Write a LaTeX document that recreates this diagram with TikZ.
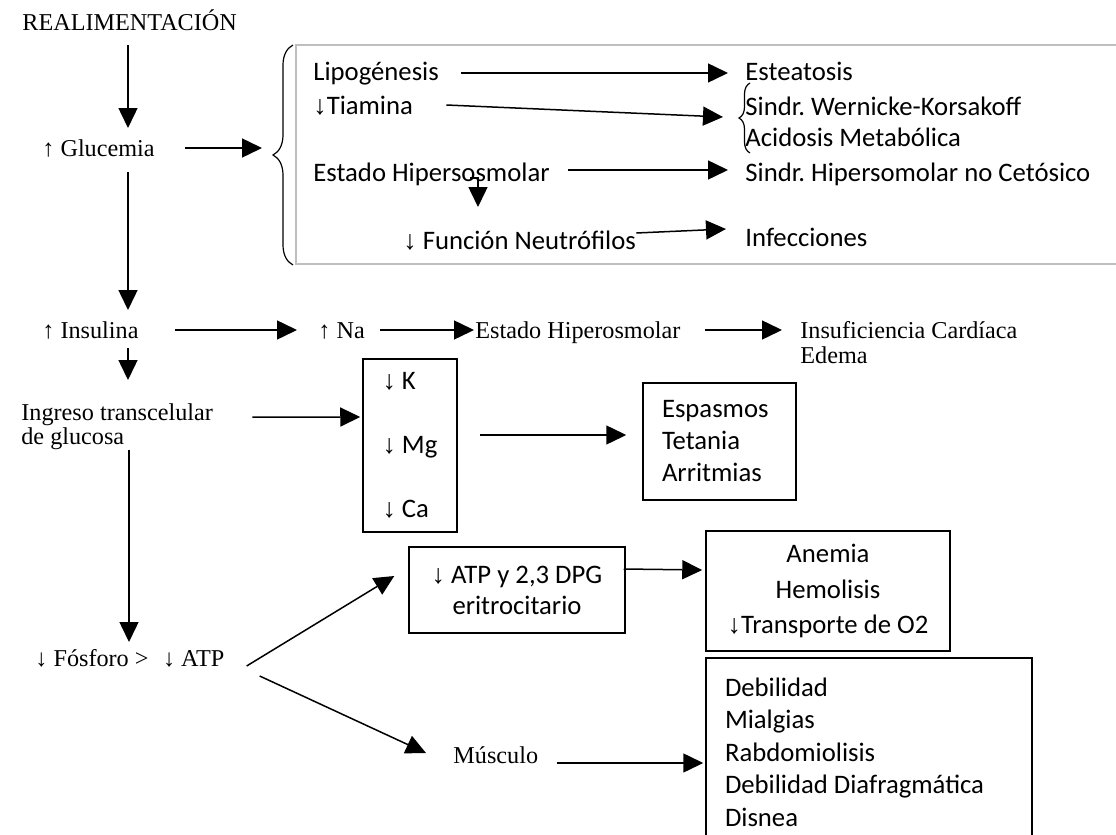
\documentclass[tikz,border=0pt]{standalone}
\usepackage{fontspec}
\setmainfont{Liberation Serif}
\newfontfamily\calfont{Carlito}
\usetikzlibrary{arrows.meta,calc,decorations.pathreplacing}
\newcommand\dnarr{{\rmfamily ↓}}
\newcommand\uparr{{\rmfamily ↑}}
\tikzset{
  ser/.style={font=\fontsize{12.1}{12.3}\selectfont, inner sep=0pt, anchor=base west},
  sans/.style={font=\calfont\fontsize{13.35}{16.3}\selectfont, inner sep=0pt, anchor=base west},
  arr/.style={-{Triangle[length=10pt,width=9.5pt]}, line width=0.75pt},
  boxed/.style={draw, line width=0.75pt, inner sep=0pt},
  brc/.style={decorate, line width=0.6pt},
}
\begin{document}
\frenchspacing
\begin{tikzpicture}[x=0.5pt,y=-0.5pt]
\useasboundingbox (0,0) rectangle (1116,835);
\clip (0,0) rectangle (1116,835);
\coordinate (spine) at (128,0);

% main column
\node[ser] (real) at (22,31) {REALIMENTACIÓN};
\node[ser] (gluc) at (42,156) {\uparr\ Glucemia};
\node[ser] (insul) at (42,338) {\uparr\ Insulina};
\node[ser, anchor=north west, align=flush left] (ingr) at (21,403) {Ingreso transcelular\\de glucosa};
\node[ser] (fosf) at (35,666) {\dnarr\ Fósforo >\hspace{0.6em}\dnarr\ ATP};

% hyperglycaemia group
\draw[black!25, line width=0.6pt] (296,45) rectangle (1130,264);
\draw[brc, decoration={brace, amplitude=10pt}] (293,265) -- (293,45);
\coordinate (bbin) at (262,148);
\node[sans] (lipo) at (313,81) {Lipogénesis};
\node[sans] (tiam) at (313,114) {\dnarr Tiamina};
\node[sans] (estado) at (313,181) {Estado Hipersosmolar};
\node[sans] (neut) at (403,249) {\dnarr\ Función Neutrófilos};
\node[sans] (estea) at (745,81) {Esteatosis};
\node[sans] (wern) at (745,115) {Sindr. Wernicke-Korsakoff};
\node[sans] (acid) at (745,147) {Acidosis Metabólica};
\node[sans] (shno) at (745,181) {Sindr. Hipersomolar no Cetósico};
\node[sans] (infec) at (745,246) {Infecciones};
\draw[brc, decoration={brace, amplitude=5.5pt}] (750,153) -- (750,83);
\coordinate (sbtip) at (728,118);

% sodium branch
\node[ser] (na) at (318,338) {\uparr\ Na};
\node[ser] (ehos) at (475,338) {Estado Hiperosmolar};
\node[ser, anchor=north west, align=flush left] (icard) at (800,321) {Insuficiencia Cardíaca\\Edema};

% electrolytes
\node[boxed, minimum width=47pt, minimum height=86.5pt, align=flush left,
      font=\calfont\fontsize{13.35}{32}\selectfont] (elec) at (410,445.5)
      {\dnarr\ K\\\dnarr\ Mg\\\dnarr\ Ca};
\node[boxed, minimum width=76.5pt, minimum height=58.5pt, text width=57.5pt, align=flush left,
      font=\calfont\fontsize{13.35}{16}\selectfont] (espas) at (719.5,441.5)
      {Espasmos\\Tetania\\Arritmias};

% phosphate branch
\node[boxed, minimum width=108pt, minimum height=43pt, text width=100pt, align=flush center,
      font=\calfont\fontsize{13.35}{15.5}\selectfont] (atp) at (517,590)
      {\dnarr\ ATP y 2,3 DPG\\eritrocitario};
\node[boxed, minimum width=122pt, minimum height=60pt, text width=112pt, align=flush center,
      font=\calfont\fontsize{13.35}{17.6}\selectfont] (anem) at (828,591)
      {Anemia\\Hemolisis\\\dnarr Transporte de O2};
\node[ser] (musc) at (453,763) {Músculo};
\node[boxed, minimum width=163pt, minimum height=94pt, text width=144pt, align=flush left,
      font=\calfont\fontsize{13.35}{16.25}\selectfont] (debil) at (869,752)
      {Debilidad\\Mialgias\\Rabdomiolisis\\Debilidad Diafragmática\\Disnea};

% connectors
\draw[arr] ($(real.base -| spine)+(0,14)$) -- ($(gluc.base -| spine)+(0,-28)$);
\draw[arr] ($(gluc.base east)+(30,-8)$) -- (bbin);
\draw[arr] ($(gluc.base -| spine)+(0,16)$) -- ($(insul.base -| spine)+(0,-28)$);
\draw[arr] ($(lipo.base east)+(22,-8)$) -- ($(estea.base west)+(-17,-8)$);
\draw[arr] ($(tiam.base east)+(33,-9)$) -- ($(sbtip)+(-5,-1)$);
\draw[arr] ($(estado.base east)+(18,-11)$) -- ($(shno.base west)+(-17,-11)$);
\draw[arr] ($(estado.base west)+(157,-3)$) -- ++(8,0) -- ++(0,29);
\draw[arr] ($(neut.base east)+(0,-16)$) -- ($(infec.base west)+(-19,-17)$);
\draw[arr] ($(insul.base east)+(36,-8)$) -- ($(na.base west)+(-21,-8)$);
\draw[arr] ($(na.base east)+(15,-8)$) -- ($(ehos.base west)+(-1,-8)$);
\draw[arr] ($(ehos.base east)+(24,-8)$) -- ($(icard.north west)+(-18,9)$);
\draw[arr] ($(insul.base -| spine)+(0,10)$) -- ($(ingr.north west -| spine)+(0,-23)$);
\draw[arr] ($(ingr.east)+(39,-9.5)$) -- ($(elec.west)+(-2,-28.5)$);
\draw[arr] ($(elec.east)+(22,-10.5)$) -- ($(espas.west)+(-16,-6.5)$);
\draw[arr] ($(ingr.south -| spine)+(1,0)$) -- ($(fosf.base -| spine)+(1,-24)$);
\draw[arr] ($(fosf.base east)+(22,0)$) -- ($(atp.west)+(-14,-14)$);
\draw[arr] ($(fosf.base east)+(35,10)$) -- ($(musc.base west)+(-27,-10)$);
\draw[arr] ($(atp.east)+(-2,-21)$) -- ($(anem.west)+(-3,-21)$);
\draw[arr] ($(musc.base east)+(18,0)$) -- ($(debil.west)+(-2,11)$);
\end{tikzpicture}
\end{document}
